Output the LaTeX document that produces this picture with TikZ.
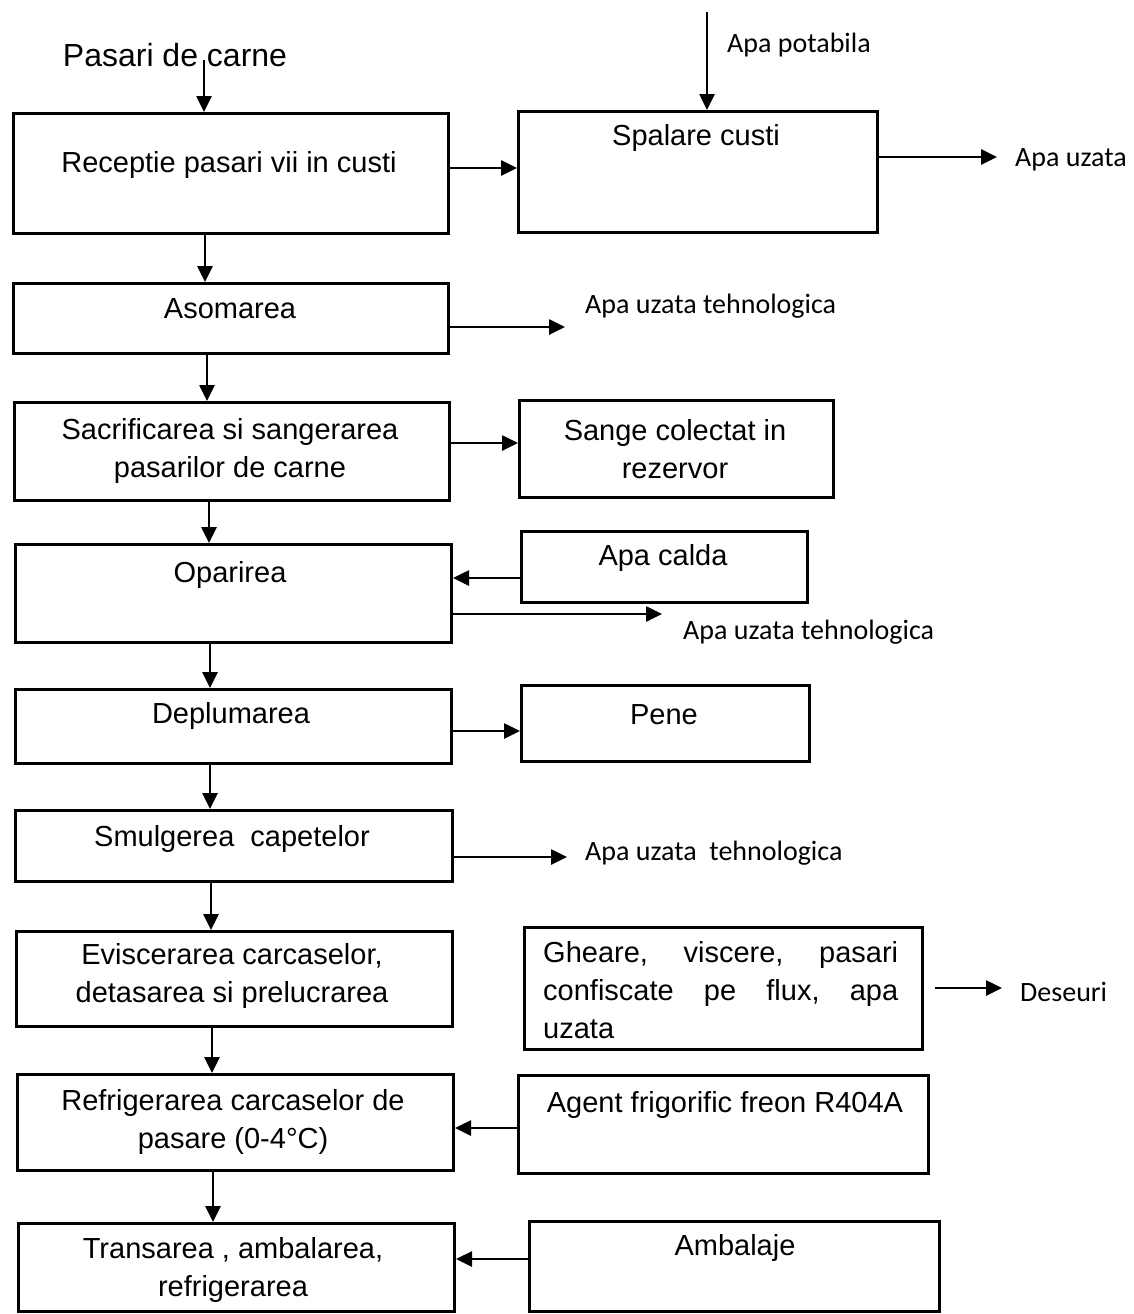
\documentclass[tikz,border=0pt]{standalone}
\usepackage{fontspec}
\setmainfont{Liberation Sans}
\newfontfamily\calfont{Carlito}
\usetikzlibrary{arrows.meta}
\begin{document}
\begin{tikzpicture}[x=1pt,y=-1pt,
  box/.style={draw, line width=3pt, inner sep=0pt, anchor=north west},
  arr/.style={-{Triangle[length=16pt,width=15pt]}, line width=2.6pt},
  txt/.style={font=\fontsize{29}{38}\selectfont, align=center, inner sep=0pt},
  lab/.style={font=\calfont\fontsize{28}{34}\selectfont, anchor=west, inner sep=0pt}]
\useasboundingbox (0,0) rectangle (1134,1314);
\fill[white] (0,0) rectangle (1134,1314);

% boxes
\node[box, minimum width=435, minimum height=120] (recep) at (12,112) {};
\node[box, minimum width=359, minimum height=121] (spal) at (517,110) {};
\node[box, minimum width=435, minimum height=70] (asom) at (12,282) {};
\node[box, minimum width=435, minimum height=98] (sacr) at (13,401) {};
\node[box, minimum width=314, minimum height=97] (sange) at (518,399) {};
\node[box, minimum width=436, minimum height=98] (opar) at (14,543) {};
\node[box, minimum width=286, minimum height=71] (calda) at (520,530) {};
\node[box, minimum width=436, minimum height=74] (deplum) at (14,688) {};
\node[box, minimum width=288, minimum height=76] (pene) at (520,684) {};
\node[box, minimum width=437, minimum height=71] (smulg) at (14,809) {};
\node[box, minimum width=436, minimum height=95] (evisc) at (15,930) {};
\node[box, minimum width=398, minimum height=122] (gheare) at (523,926) {};
\node[box, minimum width=436, minimum height=96] (refrig) at (16,1073) {};
\node[box, minimum width=410, minimum height=98] (agent) at (517,1074) {};
\node[box, minimum width=436, minimum height=88] (trans) at (17,1222) {};
\node[box, minimum width=410, minimum height=90] (ambal) at (528,1220) {};

% texts
\node[txt, font=\fontsize{32}{38}\selectfont] (pc) at (175,55) {Pasari de carne};
\node[txt] (trecep) at (229,165) {Receptie pasari vii in custi};
\node[txt] (tspal) at (696,138) {Spalare custi};
\node[txt] (tasom) at (230,309) {Asomarea};
\node[txt] (tsacr) at (230,451) {Sacrificarea si sangerarea\\pasarilor de carne};
\node[txt] (tsange) at (675,449) {Sange colectat in\\rezervor};
\node[txt] (topar) at (230,575) {Oparirea};
\node[txt] (tcalda) at (663,558) {Apa calda};
\node[txt] (tdeplum) at (231,716) {Deplumarea};
\node[txt] (tpene) at (664,715) {Pene};
\node[txt] (tsmulg) at (232,839) {Smulgerea\ \ capetelor};
\node[txt] (tevisc) at (232,976) {Eviscerarea carcaselor,\\detasarea si prelucrarea};
\node[txt, align=left, text width=355pt, anchor=west] (tgheare) at (543,990)
  {\makebox[355pt][l]{Gheare,\hfill viscere,\hfill pasari}\\\makebox[355pt][l]{confiscate\hfill pe\hfill flux,\hfill apa}\\uzata};
\node[txt] (trefrig) at (233,1122) {Refrigerarea carcaselor de\\pasare (0-4°C)};
\node[txt] (tagent) at (725,1105) {Agent frigorific freon R404A};
\node[txt] (ttrans) at (233,1270) {Transarea , ambalarea,\\refrigerarea};
\node[txt] (tambal) at (735,1248) {Ambalaje};

% side labels
\node[lab] (lpot) at (727,45) {Apa potabila};
\node[lab] (lau) at (1015,160) {Apa uzata};
\node[lab] (l1) at (585,306) {Apa uzata tehnologica};
\node[lab] (l2) at (683,632) {Apa uzata tehnologica};
\node[lab] (l3) at (585,853) {Apa uzata\ \ tehnologica};
\node[lab] (ldes) at (1020,992) {Deseuri};

% free ends
\coordinate (pctop) at (204,60);
\coordinate (aptop) at (707,12);

% connectors
\draw[arr] (pctop) -- (recep.north -| pctop);
\draw[arr] (aptop) -- (spal.north -| aptop);
\draw[arr] (recep.east |- 0,168) -- (spal.west |- 0,168);
\draw[arr] (spal.east |- 0,157) -- ([xshift=-18]lau.west |- 0,157);
\draw[arr] (recep.south -| 205,0) -- (asom.north -| 205,0);
\draw[arr] (asom.east |- 0,327) -- ([xshift=-20]l1.west |- 0,327);
\draw[arr] (asom.south -| 207,0) -- (sacr.north -| 207,0);
\draw[arr] (sacr.east |- 0,443) -- (sange.west |- 0,443);
\draw[arr] (sacr.south -| 209,0) -- (opar.north -| 209,0);
\draw[arr] (calda.west |- 0,578) -- (opar.east |- 0,578);
\draw[arr] (opar.east |- 0,614) -- ([xshift=-21]l2.west |- 0,614);
\draw[arr] (opar.south -| 210,0) -- (deplum.north -| 210,0);
\draw[arr] (deplum.east |- 0,731) -- (pene.west |- 0,731);
\draw[arr] (deplum.south -| 210,0) -- (smulg.north -| 210,0);
\draw[arr] (smulg.east |- 0,857) -- ([xshift=-18]l3.west |- 0,857);
\draw[arr] (smulg.south -| 211,0) -- (evisc.north -| 211,0);
\draw[arr] ([xshift=11]gheare.east |- 0,988) -- ([xshift=-18]ldes.west |- 0,988);
\draw[arr] (evisc.south -| 212,0) -- (refrig.north -| 212,0);
\draw[arr] (agent.west |- 0,1128) -- (refrig.east |- 0,1128);
\draw[arr] (refrig.south -| 213,0) -- (trans.north -| 213,0);
\draw[arr] (ambal.west |- 0,1259) -- (trans.east |- 0,1259);
\end{tikzpicture}
\end{document}
